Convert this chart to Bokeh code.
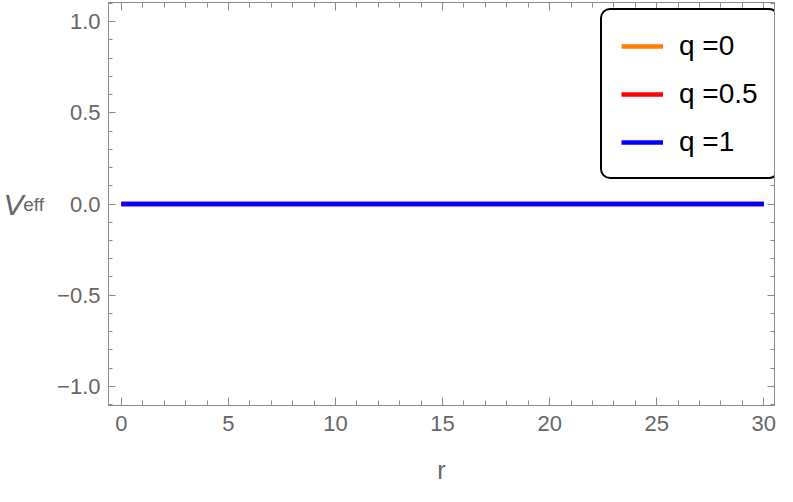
from bokeh.plotting import figure
from bokeh.models import (Range1d, LinearAxis, FixedTicker, CustomJSTickFormatter,
                          Legend, LegendItem)
from bokeh.embed import file_html
from bokeh.resources import INLINE

# ---- data ----
r_values = [0, 5, 10, 15, 20, 25, 30]
v_q0 = [0, 0, 0, 0, 0, 0, 0]
v_q05 = [0, 0, 0, 0, 0, 0, 0]
v_q1 = [0, 0, 0, 0, 0, 0, 0]
series_labels = ["q =0", "q =0.5", "q =1"]
series_colors = ["#FF8000", "#FF0000", "#0000FF"]

x_ticks = [0, 5, 10, 15, 20, 25, 30]
x_minor = list(range(0, 31))
y_ticks = [-1.0, -0.5, 0.0, 0.5, 1.0]
y_minor = [round(-1.1 + 0.1 * i, 1) for i in range(23)]
x_start, x_end = -0.6, 30.5
y_start, y_end = -1.105, 1.105

AXIS = "#8c8c8c"
LAB = "#666666"
FONT = "Liberation Sans"

W, H = 777, 486
BL, BR, BT, BB = 108, 3, 2, 72
FW = W - BL - BR

p = figure(width=W, height=H, output_backend="svg", toolbar_location=None,
           x_range=Range1d(x_start, x_end), y_range=Range1d(y_start, y_end),
           min_border_left=BL, min_border_right=BR, min_border_top=BT,
           min_border_bottom=BB)
p.grid.visible = False
p.outline_line_color = AXIS
p.outline_line_width = 1
p.background_fill_color = "white"
p.border_fill_color = "white"

renderers = []
for vals, col in zip([v_q0, v_q05, v_q1], series_colors):
    renderers.append(p.line(r_values, vals, line_color=col, line_width=4.5))

xt = FixedTicker(ticks=x_ticks, minor_ticks=x_minor)
yt = FixedTicker(ticks=y_ticks, minor_ticks=y_minor)
yfmt = CustomJSTickFormatter(code="return tick.toFixed(1).replace('-', '\u2212');")
empty = CustomJSTickFormatter(code="return '';")


def style(ax, major, minor):
    ax.axis_line_color = AXIS
    ax.major_tick_line_color = AXIS
    ax.minor_tick_line_color = AXIS
    ax.major_tick_in = major
    ax.major_tick_out = 0
    ax.minor_tick_in = minor
    ax.minor_tick_out = 0
    ax.major_label_text_font = FONT
    ax.major_label_text_font_size = "22px"
    ax.major_label_text_color = LAB


xa = p.xaxis[0]
xa.ticker = xt
style(xa, 8, 5)
xa.major_label_standoff = 10
xa.axis_label = "r"
xa.axis_label_text_font = FONT
xa.axis_label_text_font_size = "25px"
xa.axis_label_text_font_style = "normal"
xa.axis_label_text_color = LAB
xa.axis_label_standoff = 22

# inner left axis: ticks + "eff" subscript part of the label
ya = p.yaxis[0]
ya.ticker = yt
ya.formatter = yfmt
style(ya, 7, 4)
ya.major_label_standoff = 8
ya.axis_label = "eff"
ya.axis_label_orientation = "horizontal"
ya.axis_label_text_font = FONT
ya.axis_label_text_font_size = "19px"
ya.axis_label_text_font_style = "normal"
ya.axis_label_text_color = LAB
ya.axis_label_text_baseline = "top"
ya.axis_label_standoff = 10

# outer left axis: only the italic "V"
vax = LinearAxis(ticker=FixedTicker(ticks=[]), formatter=empty,
                 axis_line_color=None, major_tick_line_color=None,
                 minor_tick_line_color=None, major_tick_in=0, major_tick_out=0,
                 minor_tick_in=0, minor_tick_out=0, major_label_standoff=0,
                 axis_label="V", axis_label_orientation="horizontal",
                 axis_label_text_font=FONT, axis_label_text_font_size="30px",
                 axis_label_text_font_style="italic", axis_label_text_color=LAB,
                 axis_label_standoff=-3)
p.add_layout(vax, "left")

top = LinearAxis(ticker=xt, formatter=empty, major_label_standoff=0)
style(top, 8, 5)
p.add_layout(top, "above")
right = LinearAxis(ticker=yt, formatter=empty, major_label_standoff=0)
style(right, 7, 4)
p.add_layout(right, "right")

# legend
LEG_W = 175
legend = Legend(items=[LegendItem(label=l, renderers=[r])
                       for l, r in zip(series_labels, renderers)],
                location=(FW - LEG_W + 1, 226))
legend.label_text_font = FONT
legend.label_text_font_size = "28px"
legend.label_text_color = "black"
legend.glyph_width = 42
legend.glyph_height = 20
legend.label_height = 33
legend.label_standoff = 16
legend.padding = 19
legend.spacing = 15
legend.margin = 0
legend.border_line_color = "black"
legend.border_line_alpha = 1.0
legend.border_line_width = 2
legend.background_fill_color = "white"
legend.background_fill_alpha = 1.0
if "border_radius" in Legend.properties():
    legend.border_radius = 10
p.add_layout(legend)

open("out.html", "w").write(file_html(p, INLINE))
